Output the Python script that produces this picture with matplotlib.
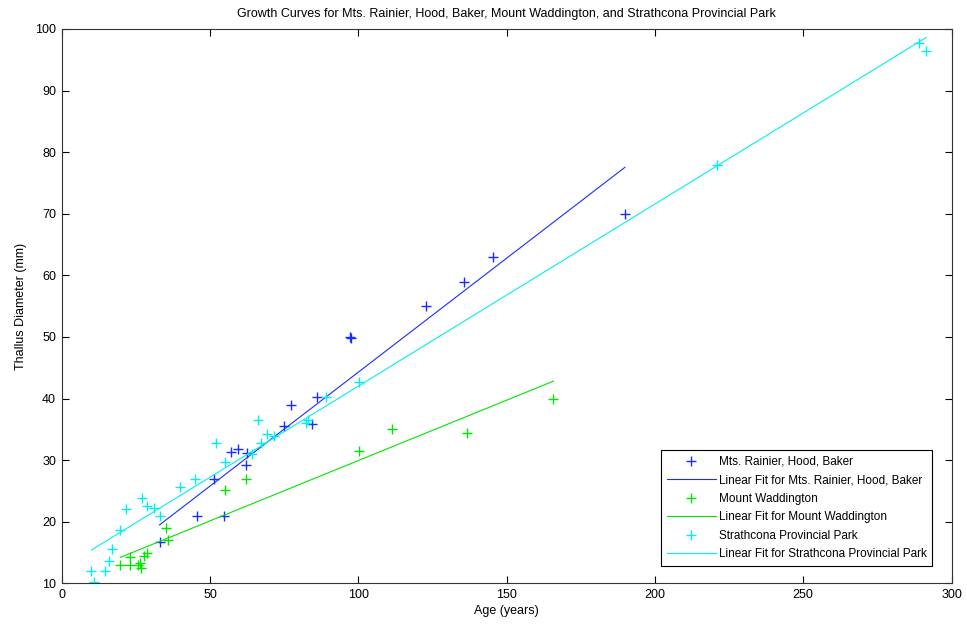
import matplotlib
matplotlib.use("Agg")
import matplotlib.pyplot as plt
import numpy as np

plt.rcParams['font.family'] = ['Liberation Sans', 'DejaVu Sans']

# Mts. Rainier, Hood, Baker
rainier_age = [33, 45.7, 54.7, 51.3, 57, 59.3, 62.4, 62.3, 75, 77.3, 86.1, 84.5,
               97.4, 97.2, 122.7, 135.5, 145.5, 189.9]
rainier_diam = [16.7, 20.9, 20.9, 27.0, 31.3, 31.8, 31.2, 29.2, 35.5, 38.9, 40.3, 35.8,
                49.9, 50.0, 55.0, 58.9, 63.0, 70.0]
rainier_fit = (0.370, 7.28)  # slope, intercept

# Mount Waddington
wadd_age = [19.8, 22.9, 23.1, 25.6, 26.5, 26.9, 27.9, 28.6, 35.3, 35.8,
            55.0, 62.0, 100.4, 111.3, 136.5, 165.8]
wadd_diam = [12.9, 14.3, 13.0, 13.0, 13.3, 12.5, 14.5, 14.9, 19.0, 17.0,
             25.1, 27.0, 31.5, 35.0, 34.4, 40.0]
wadd_fit = (0.196, 10.33)

# Strathcona Provincial Park
strath_age = [10.0, 10.8, 14.7, 15.8, 17.0, 19.8, 21.8, 27.1, 28.8, 31.2, 33.0,
              40.0, 45.0, 52.0, 55.2, 64.0, 66.2, 67.3, 69.2, 71.6, 82.3, 83.0,
              89.1, 100.4, 221.0, 288.9, 291.5]
strath_diam = [12.0, 10.2, 12.0, 13.6, 15.5, 18.6, 22.1, 23.8, 22.5, 22.2, 20.9,
               25.6, 27.0, 32.7, 29.7, 31.0, 36.5, 32.8, 34.2, 33.9, 36.1, 36.5,
               40.2, 42.7, 77.9, 97.7, 96.4]
strath_fit = (0.2957, 12.44)

x_ticks = [0, 50, 100, 150, 200, 250, 300]
y_ticks = [10, 20, 30, 40, 50, 60, 70, 80, 90, 100]

c_blue = '#1a2cff'
c_green = '#00e600'
c_cyan = '#00f0f0'

fig = plt.figure(figsize=(9.67, 6.27), dpi=100)
ax = fig.add_axes([61.7 / 967, 1 - 583.3 / 627, (951.5 - 61.7) / 967, (583.3 - 29) / 627])


def fit_line(xs, coef):
    xx = np.array([min(xs), max(xs)])
    return xx, coef[0] * xx + coef[1]


ms = 7
ax.plot(rainier_age, rainier_diam, '+', color=c_blue, ms=ms, mew=1.0,
        label='Mts. Rainier, Hood, Baker')
xx, yy = fit_line(rainier_age, rainier_fit)
ax.plot(xx, yy, '-', color=c_blue, lw=0.8, label='Linear Fit for Mts. Rainier, Hood, Baker')
ax.plot(wadd_age, wadd_diam, '+', color=c_green, ms=ms, mew=1.0, label='Mount Waddington')
xx, yy = fit_line(wadd_age, wadd_fit)
ax.plot(xx, yy, '-', color=c_green, lw=0.8, label='Linear Fit for Mount Waddington')
ax.plot(strath_age, strath_diam, '+', color=c_cyan, ms=ms, mew=1.0,
        label='Strathcona Provincial Park')
xx, yy = fit_line(strath_age, strath_fit)
ax.plot(xx, yy, '-', color=c_cyan, lw=0.8, label='Linear Fit for Strathcona Provincial Park')

ax.set_xlim(0, 300)
ax.set_ylim(10, 100)
ax.set_xticks(x_ticks)
ax.set_yticks(y_ticks)
ax.tick_params(direction='in', top=True, right=True, length=5, width=0.8,
               labelsize=9, colors='black', pad=4)
for s in ax.spines.values():
    s.set_linewidth(0.8)
    s.set_color('#333333')

ax.set_xlabel('Age (years)', fontsize=9, labelpad=3)
ax.set_ylabel('Thallus Diameter (mm)', fontsize=9, labelpad=6)
ax.set_title('Growth Curves for Mts. Rainier, Hood, Baker, Mount Waddington, and Strathcona Provincial Park',
             fontsize=9, pad=9)

leg = ax.legend(loc='lower right', bbox_to_anchor=(0.9785, 0.031), fontsize=8.5,
                numpoints=1, handlelength=4.1, handletextpad=0.25, labelspacing=0.55,
                borderpad=0.5, borderaxespad=0, fancybox=False, framealpha=1,
                edgecolor='black')
leg.get_frame().set_linewidth(0.8)

fig.savefig('out.png', dpi=100)
